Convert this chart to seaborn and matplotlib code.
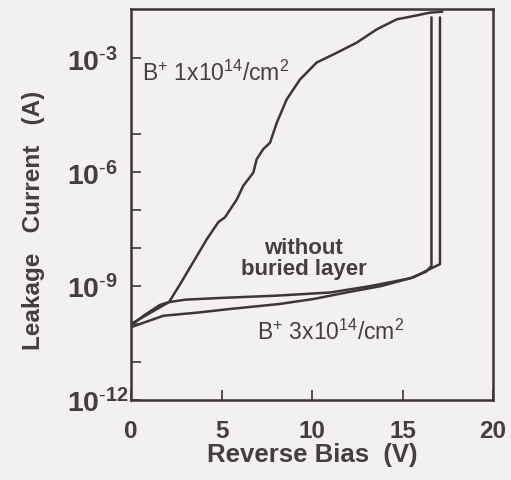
import numpy as np
import pandas as pd
import matplotlib
matplotlib.use("Agg")
import matplotlib.pyplot as plt
import matplotlib.ticker as mticker
import seaborn as sns

# ---- data ----
v_b1e14 = [0, 1.0, 2.1, 2.7, 3.26, 4.18, 4.83, 5.19, 5.84, 6.2, 6.76, 6.94, 7.31, 7.68,
           8.05, 8.6, 9.34, 10.26, 11.36, 12.47, 13.57, 14.68, 15.6, 16.5, 17.2]
i_b1e14 = [1.0e-10, 1.9e-10, 3.8e-10, 1.1e-9, 3.1e-9, 1.7e-8, 4.9e-8, 6.5e-8, 1.9e-7,
           4.4e-7, 9.8e-7, 2.2e-6, 4.1e-6, 6.0e-6, 2.0e-5, 8.3e-5, 2.8e-4, 7.8e-4,
           1.4e-3, 2.6e-3, 5.8e-3, 1.07e-2, 1.3e-2, 1.6e-2, 1.7e-2]

v_without = [0, 0.8, 1.6, 2.1, 3.0, 5.0, 8.0, 11.0, 13.2, 15.4, 16.3, 16.6, 16.6]
i_without = [9.5e-11, 1.8e-10, 3.2e-10, 3.8e-10, 4.4e-10, 4.9e-10, 5.6e-10, 6.8e-10,
             1.0e-9, 1.6e-9, 2.4e-9, 3.4e-9, 1.2e-2]

v_b3e14 = [0, 1.79, 3.63, 5.47, 8.23, 10.1, 11.9, 13.8, 15.6, 16.5, 17.07, 17.07]
i_b3e14 = [8.3e-11, 1.66e-10, 2.0e-10, 2.5e-10, 3.4e-10, 4.6e-10, 6.8e-10, 1.0e-9,
           1.7e-9, 2.8e-9, 3.8e-9, 1.2e-2]

major_exps = [-12, -9, -6, -3]
minor_exps = [-11, -10, -8, -7, -5]
x_ticks = [0, 5, 10, 15, 20]

# ---- style ----
sns.set_theme(style="white")
BG = "#f2f1f0"
INK = "#3d3537"
TXT = "#463d3f"
plt.rcParams["font.family"] = ["Liberation Sans", "DejaVu Sans"]
plt.rcParams["mathtext.fontset"] = "custom"
plt.rcParams["mathtext.rm"] = "Liberation Sans"
plt.rcParams["mathtext.bf"] = "Liberation Sans:bold"
plt.rcParams["mathtext.it"] = "Liberation Sans:italic"

fig = plt.figure(figsize=(5.11, 4.81), dpi=100, facecolor=BG)
ax = fig.add_axes([0.2564, 0.1663, 0.7084, 0.8129])
ax.set_facecolor(BG)

frames = []
for name, v, i in [("b1", v_b1e14, i_b1e14), ("wo", v_without, i_without),
                   ("b3", v_b3e14, i_b3e14)]:
    frames.append(pd.DataFrame({"V": v, "I": i, "curve": name}))
df = pd.concat(frames, ignore_index=True)

for name, sub in df.groupby("curve", sort=False):
    sns.lineplot(data=sub, x="V", y="I", sort=False, estimator=None, ax=ax,
                 color=INK, lw=1.8)

ax.set_yscale("log")
ax.set_xlim(0, 20)
ax.set_ylim(1e-12, 2.0e-2)

ax.yaxis.set_major_locator(mticker.FixedLocator([10.0 ** e for e in major_exps]))
ax.yaxis.set_minor_locator(mticker.FixedLocator([10.0 ** e for e in minor_exps]))
ax.yaxis.set_minor_formatter(mticker.NullFormatter())
ax.set_yticklabels([r"$\mathbf{10^{\text{-}%d}}$" % (-e) for e in major_exps])
ax.set_xticks(x_ticks)
ax.set_xticklabels([str(t) for t in x_ticks])

ax.tick_params(axis="both", which="both", direction="in", length=7, width=1.2,
               color=INK, labelcolor=TXT, top=False, right=False,
               bottom=True, left=True)
ax.tick_params(axis="x", pad=14, labelsize=17.5)
ax.tick_params(axis="y", pad=46, labelsize=20.5)
for lab in ax.get_xticklabels():
    lab.set_fontweight("bold")
for lab in ax.get_yticklabels():
    lab.set_horizontalalignment("left")

for s in ax.spines.values():
    s.set_color(INK)
    s.set_linewidth(1.8)

ax.set_xlabel("Reverse Bias  (V)", fontsize=18.5, fontweight="bold", color=TXT, labelpad=0)
ax.set_ylabel("Leakage   Current   (A)", fontsize=17.5, fontweight="bold", color=TXT)
ax.yaxis.set_label_coords(-0.238, 0.463)

ax.text(0.6, 10 ** -3.37, r"B$^{+}$ 1x10$^{14}$/cm$^{2}$", fontsize=16.5, color=TXT,
        ha="left", va="center")
ax.text(9.55, 10 ** -8.27, "without\nburied layer", fontsize=16, fontweight="bold",
        color=TXT, ha="center", va="center", linespacing=1.0)
ax.text(11.0, 10 ** -10.18, r"B$^{+}$ 3x10$^{14}$/cm$^{2}$", fontsize=16.5, color=TXT,
        ha="center", va="center")

fig.savefig("out.png", dpi=100, facecolor=BG)
